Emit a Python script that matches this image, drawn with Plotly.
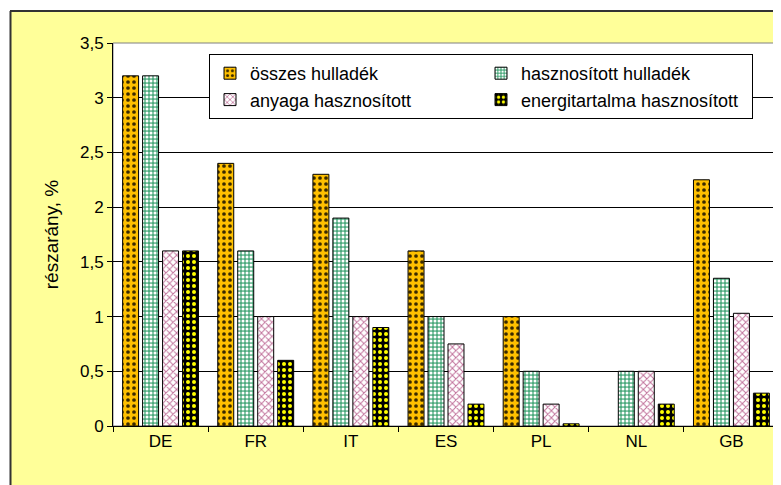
import plotly.graph_objects as go

categories = ["DE", "FR", "IT", "ES", "PL", "NL", "GB"]
osszes = [3.2, 2.4, 2.3, 1.6, 1.0, None, 2.25]
hasznositott = [3.2, 1.6, 1.9, 1.0, 0.5, 0.5, 1.35]
anyaga = [1.6, 1.0, 1.0, 0.75, 0.2, 0.5, 1.03]
energi = [1.6, 0.6, 0.9, 0.2, 0.02, 0.2, 0.3]
series_names = ["összes hulladék", "hasznosított hulladék", "anyaga hasznosított", "energitartalma hasznosított"]
y_ticks = [0, 0.5, 1, 1.5, 2, 2.5, 3, 3.5]

# page is rendered with the browser's default 8px body margin
OFF = 8
W, H = 781 - OFF, 485 - OFF
PL, PR, PT, PB = 113 - OFF, 779 - OFF, 43 - OFF, 426 - OFF

def px(x):
    return (x - OFF - PL) / (PR - PL)

def py(y):
    return (PB - (y - OFF)) / (PB - PT)

fig = go.Figure()
styles = [
    dict(bgcolor="#FFC000", fgcolor="#3a2a00", shape=".", size=6, solidity=0.3),
    dict(bgcolor="#4DAA7E", fgcolor="#FFFFFF", shape=".", size=4, solidity=0.45),
    dict(bgcolor="#FFFFFF", fgcolor="#C0709A", shape="x", size=5, solidity=0.35),
    dict(bgcolor="#000000", fgcolor="#FFFF00", shape=".", size=6, solidity=0.35),
]
for name, vals, st in zip(series_names, [osszes, hasznositott, anyaga, energi], styles):
    fig.add_trace(go.Bar(
        x=categories, y=vals, name=name,
        marker=dict(color=st["bgcolor"], line=dict(color="#000000", width=1),
                    pattern=dict(shape=st["shape"], bgcolor=st["bgcolor"], fgcolor=st["fgcolor"],
                                 size=st["size"], solidity=st["solidity"], fillmode="replace")),
    ))

font = "Liberation Sans, Arial, sans-serif"
shapes = [
    # white strips outside the yellow frame
    dict(type="rect", xref="paper", yref="paper", x0=px(-20), x1=px(10), y0=py(520), y1=py(-20),
         fillcolor="white", line=dict(width=0), layer="below"),
    dict(type="rect", xref="paper", yref="paper", x0=px(-20), x1=px(800), y0=py(10.5), y1=py(-20),
         fillcolor="white", line=dict(width=0), layer="below"),
    dict(type="line", xref="paper", yref="paper", x0=px(10.5), x1=px(10.5), y0=py(11), y1=py(520),
         line=dict(color="#333333", width=2)),
    dict(type="line", xref="paper", yref="paper", x0=px(10), x1=px(800), y0=py(11), y1=py(11),
         line=dict(color="#333333", width=2)),
    # plot area border
    dict(type="rect", xref="paper", yref="paper", x0=0, x1=1, y0=0, y1=1,
         line=dict(color="#808080", width=1), layer="below"),
]

fig.update_layout(
    width=W, height=H,
    margin=dict(l=PL, r=W - PR, t=PT, b=H - PB, pad=0),
    paper_bgcolor="#FFFF99", plot_bgcolor="#FFFFFF",
    separators=", ",
    font=dict(family=font, size=16, color="#000000"),
    barmode="group", bargap=0.16, bargroupgap=0.2,
    shapes=shapes,
    showlegend=True,
    legend=dict(
        orientation="h", x=px(209), y=py(54), xanchor="left", yanchor="top",
        bgcolor="#FFFFFF", bordercolor="#000000", borderwidth=1,
        font=dict(family=font, size=18), entrywidth=226, entrywidthmode="pixels",
        traceorder="normal", itemwidth=30, tracegroupgap=0,
    ),
    xaxis=dict(
        type="category", showline=True, linecolor="#000000", linewidth=1,
        ticks="outside", tickson="boundaries", ticklen=5, tickcolor="#000000",
        tickfont=dict(size=17), showgrid=False, fixedrange=True,
    ),
    yaxis=dict(
        range=[0, 3.5], tickvals=y_ticks, ticktext=[("%g" % v).replace(".", ",") for v in y_ticks],
        showline=True, linecolor="#000000", linewidth=1,
        ticks="outside", ticklen=5, tickcolor="#000000",
        showgrid=True, gridcolor="#000000", gridwidth=1, zeroline=False,
        tickfont=dict(size=17),
        title=dict(text="részarány, %", font=dict(size=19), standoff=16),
    ),
)

fig.write_html("out.html")
